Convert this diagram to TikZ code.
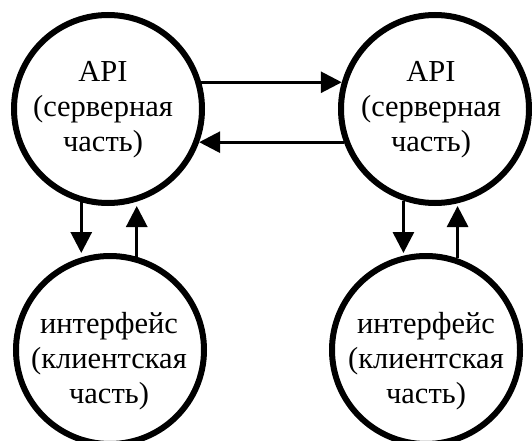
\documentclass[tikz,border=0pt]{standalone}
\usepackage{fontspec}
\setmainfont{Liberation Serif}
\usetikzlibrary{arrows.meta}
\begin{document}
\begin{tikzpicture}[x=1pt,y=-1pt,
  circ/.style={circle,draw,line width=6pt,minimum size=188pt,inner sep=0pt},
  lbl/.style={align=center,inner sep=0pt,font=\fontsize{30.5}{35}\selectfont},
  arr/.style={line width=3pt,-{Triangle[length=21pt,width=21pt]}}]
\useasboundingbox (0,0) rectangle (532,441);
\clip (0,0) rectangle (532,441);
\node[circ] (c1) at (108,109) {};
\node[circ] (c2) at (435,109) {};
\node[circ] (c3) at (110,350) {};
\node[circ] (c4) at (426,350) {};
\node[lbl] (t1) at (103,110) {API\\(серверная\\часть)};
\node[lbl] (t2) at (431,110) {API\\(серверная\\часть)};
\node[lbl] (t3) at (109,361) {интерфейс\\(клиентская\\часть)};
\node[lbl] (t4) at (426,361) {интерфейс\\(клиентская\\часть)};
\draw[arr] (c1.16) -- (c2.164);
\draw[arr] (c2.200) -- (c1.-20);
\draw[arr] (c1.254) -- (c1.254 |- c3.north);
\draw[arr] (c3.74) -- (c3.74 |- c1.south);
\draw[arr] (c2.251) -- (c2.251 |- c4.north);
\draw[arr] (c4.71) -- (c4.71 |- c2.south);
\end{tikzpicture}
\end{document}
